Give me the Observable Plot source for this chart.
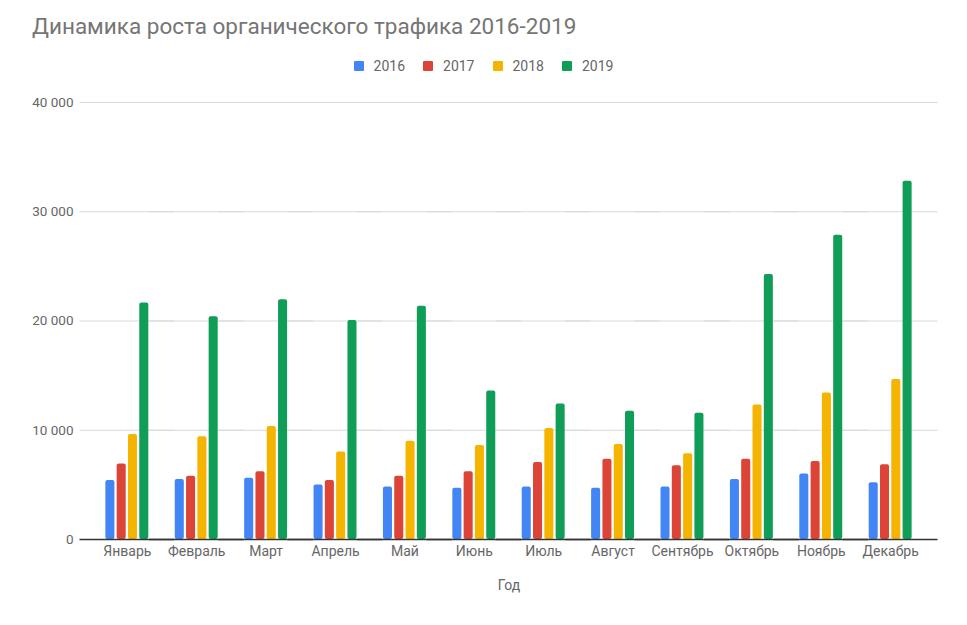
<!DOCTYPE html>
<html><head><meta charset="utf-8">
<script src="https://cdn.jsdelivr.net/npm/d3@7"></script>
<script src="https://cdn.jsdelivr.net/npm/@observablehq/plot@0.6"></script>
<style>
body{margin:0;background:#fff;font-family:Roboto,sans-serif;width:967px;height:625px;overflow:hidden;position:relative}
#title{position:absolute;left:32px;top:13px;font-size:22.5px;color:#757575;white-space:nowrap}
#legend{position:absolute;top:58px;left:0;width:967px;display:flex;justify-content:center;font-size:14px;color:#666}
#legend .item{display:flex;align-items:center;margin:0 9px}
#legend .sw{width:10px;height:10px;border-radius:1px;margin-right:10px}
#chart{position:absolute;top:90px;left:0}
</style></head>
<body>
<div id="title">Динамика роста органического трафика 2016-2019</div>
<div id="legend"></div>
<div id="chart"></div>
<script>
const months = ["Январь","Февраль","Март","Апрель","Май","Июнь","Июль","Август","Сентябрь","Октябрь","Ноябрь","Декабрь"];
const years = ["2016","2017","2018","2019"];
const colors = ["#4285F4","#DB4437","#F4B400","#0F9D58"];
const v2016 = [5400,5500,5600,5000,4800,4700,4800,4700,4800,5500,6000,5200];
const v2017 = [6900,5800,6200,5400,5800,6200,7050,7350,6750,7350,7150,6850];
const v2018 = [9600,9400,10350,8000,9000,8600,10150,8700,7850,12300,13400,14650];
const v2019 = [21650,20400,21950,20050,21350,13600,12400,11750,11550,24250,27850,32800];
const yTicks = [0,10000,20000,30000,40000];
const xLabel = "Год";

const series = [v2016,v2017,v2018,v2019];
const data = [];
months.forEach((m,i)=>years.forEach((y,j)=>data.push({month:m,year:y,value:series[j][i]})));

const legend = document.getElementById("legend");
years.forEach((y,j)=>{
  const it=document.createElement("div");it.className="item";
  const sw=document.createElement("div");sw.className="sw";sw.style.background=colors[j];
  const t=document.createElement("span");t.textContent=y;
  it.appendChild(sw);it.appendChild(t);legend.appendChild(it);
});

const fmt = d => d3.format(",")(d).replace(/,/g," ");
const W = 967, ML = 80, MR = 30, PI = 0.316, PO = 0.333;
const step = (W - ML - MR) / (months.length - PI + 2*PO);
const ext = -(PO*step + 0.5);

const chart = Plot.plot({
  width:W, height:535,
  marginTop:12, marginBottom:86, marginLeft:ML, marginRight:MR,
  style:{fontFamily:"Roboto, sans-serif", fontSize:"13px", color:"#666", background:"#fff"},
  fx:{domain:months, paddingInner:PI, paddingOuter:PO, align:0.5, round:false},
  x:{domain:years, padding:0.2, round:false, axis:null},
  y:{domain:[0,40000], axis:null},
  color:{domain:years, range:colors},
  marks:[
    Plot.ruleY(yTicks.slice(1), {stroke:"#d9d9d9", strokeWidth:1, insetLeft:ext, insetRight:ext}),
    Plot.axisY({ticks:yTicks, tickFormat:fmt, tickSize:0, tickPadding:-ext+6.5, fontSize:13.5, color:"#666", label:null}),
    Plot.barY(data, {fx:"month", x:"year", y:"value", fill:"year", rx:2}),
    Plot.ruleY([0], {stroke:"#333", strokeWidth:1.5, insetLeft:ext, insetRight:ext}),
    Plot.axisFx({anchor:"bottom", tickSize:0, tickPadding:7, fontSize:14, color:"#666", label:xLabel, labelAnchor:"center", labelOffset:50})
  ]
});
document.getElementById("chart").appendChild(chart);
</script>
</body></html>
